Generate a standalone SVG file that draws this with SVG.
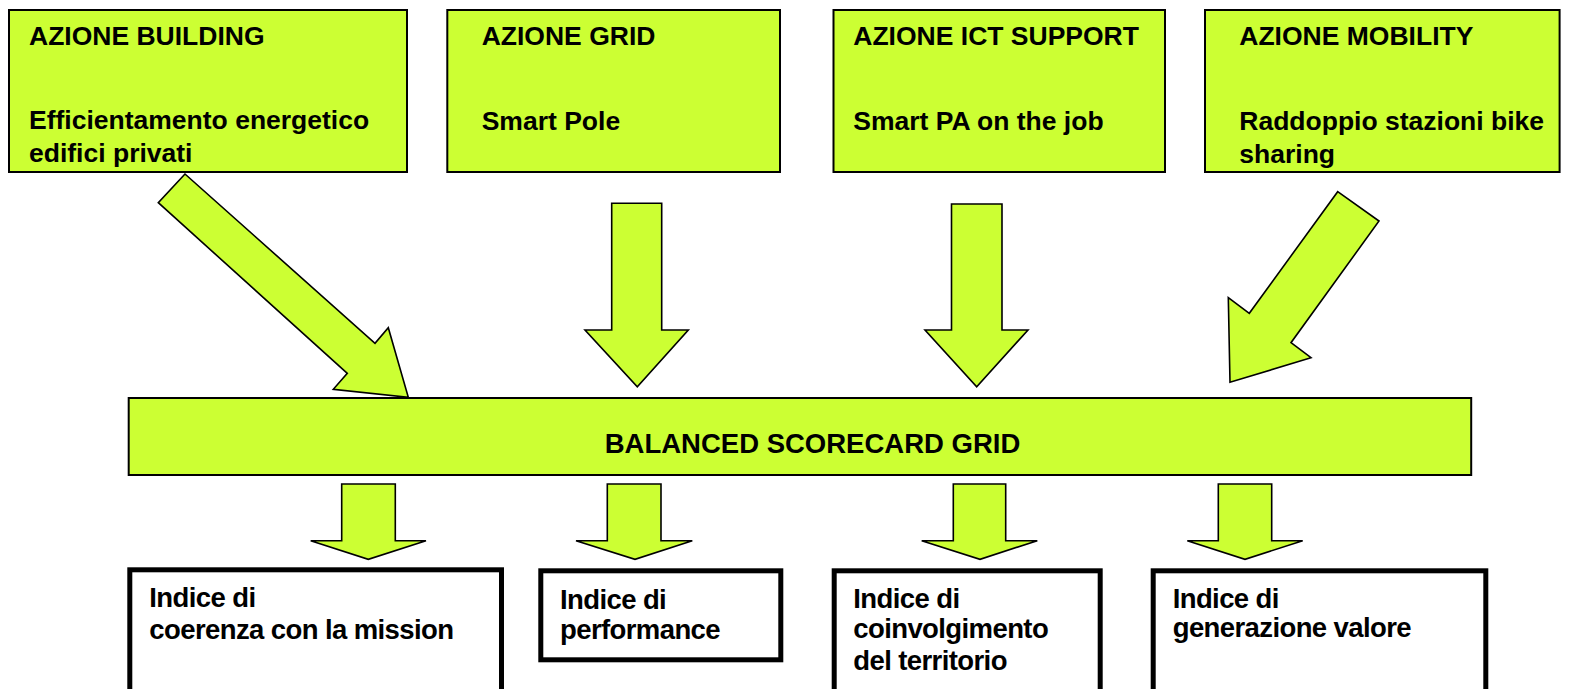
<svg xmlns="http://www.w3.org/2000/svg" width="1587" height="689" viewBox="0 0 1587 689">
<style>
.g{fill:#CCFF33;stroke:#000;stroke-width:2}
.a{fill:#CCFF33;stroke:#000;stroke-width:1.6;stroke-linejoin:miter}
.w{fill:#fff;stroke:#000;stroke-width:5}
text{font-family:"Liberation Sans",Arial,sans-serif;font-weight:bold;fill:#000}
.t{font-size:26.5px}
.b{font-size:27.5px;letter-spacing:-0.6px}
</style>
<rect width="1587" height="689" fill="#fff"/>
<g id="connectors">
<polygon class="a" points="185,174 158.3,202.7 347.3,373.3 333.3,389.3 408.3,397.3 388.3,327.7 375,343.3"/>
<polygon class="a" points="611.7,203.3 661.7,203.3 661.7,330 688.3,330 637.3,386.7 585,330 611.7,330"/>
<polygon class="a" points="951.5,204 1002,204 1002,330 1028,330 976.7,386.7 925,330 951.5,330"/>
<polygon class="a" points="1337.7,191.7 1379,221 1291,342.7 1311,357.7 1230,382.3 1228.3,297.7 1249.3,313.3"/>
<polygon class="a" points="341.7,484 395.3,484 395.3,540.7 426,540.7 368.3,559.3 310.7,540.7 341.7,540.7"/>
<polygon class="a" points="607.3,484 661,484 661,540.7 692.3,540.7 635,559.3 576,540.7 607.3,540.7"/>
<polygon class="a" points="953.3,484 1005.7,484 1005.7,540.7 1037.3,540.7 980,559.3 921.7,540.7 953.3,540.7"/>
<polygon class="a" points="1218.3,484 1271.7,484 1271.7,540.7 1302.7,540.7 1245,559.3 1187.3,540.7 1218.3,540.7"/>
</g>
<g id="building">
<rect class="g" x="9" y="10" width="398" height="162"/>
<text class="t" x="29" y="45">AZIONE BUILDING</text>
<text class="t" x="29" y="129">Efficientamento energetico</text>
<text class="t" x="29" y="162">edifici privati</text>
</g>
<g id="grid">
<rect class="g" x="447.3" y="10" width="332.7" height="162"/>
<text class="t" x="481.7" y="45">AZIONE GRID</text>
<text class="t" x="481.7" y="130">Smart Pole</text>
</g>
<g id="ict">
<rect class="g" x="833.5" y="10" width="331.5" height="162"/>
<text class="t" x="853.3" y="45">AZIONE ICT SUPPORT</text>
<text class="t" x="853.3" y="130">Smart PA on the job</text>
</g>
<g id="mobility">
<rect class="g" x="1205" y="10" width="354.6" height="162"/>
<text class="t" x="1239.3" y="45">AZIONE MOBILITY</text>
<text class="t" x="1239.3" y="130">Raddoppio stazioni bike</text>
<text class="t" x="1239.3" y="163">sharing</text>
</g>
<g id="scorecard">
<rect class="g" x="128.7" y="398" width="1342.5" height="77"/>
<text x="812.5" y="453" font-size="27.5" text-anchor="middle">BALANCED SCORECARD GRID</text>
</g>
<g id="mission">
<rect class="w" x="129.8" y="569.8" width="371.7" height="200"/>
<text class="b" x="149.3" y="607">Indice di</text>
<text class="b" x="149.3" y="638.5">coerenza con la mission</text>
</g>
<g id="performance">
<rect class="w" x="540.8" y="570.8" width="240" height="89"/>
<text class="b" x="560" y="608.5">Indice di</text>
<text class="b" x="560" y="638.5">performance</text>
</g>
<g id="territorio">
<rect class="w" x="834.2" y="570.8" width="266" height="200"/>
<text class="b" x="853.3" y="608.3">Indice di</text>
<text class="b" x="853.3" y="638.3">coinvolgimento</text>
<text class="b" x="853.3" y="670">del territorio</text>
</g>
<g id="valore">
<rect class="w" x="1153.2" y="570.8" width="332.6" height="200"/>
<text class="b" x="1172.7" y="608">Indice di</text>
<text class="b" x="1172.7" y="637">generazione valore</text>
</g>
</svg>
